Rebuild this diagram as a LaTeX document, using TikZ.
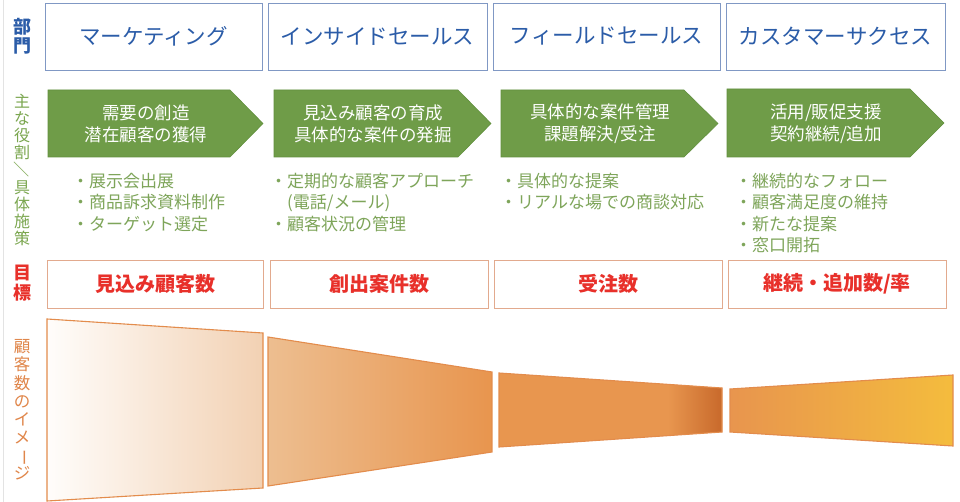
\documentclass[tikz,border=0pt]{standalone}
\usepackage{fontspec}
\setmainfont{Noto Sans CJK JP}
\usepackage{graphicx}
\definecolor{deptblue}{HTML}{2B5CA8}
\definecolor{deptline}{HTML}{8098C4}
\definecolor{rolegreen}{HTML}{6F9C48}
\definecolor{roleedge}{HTML}{62903E}
\definecolor{bulletgreen}{HTML}{7EA55A}
\definecolor{labelgreen}{HTML}{7AA64E}
\definecolor{goalred}{HTML}{E8302A}
\definecolor{goalline}{HTML}{E2AA8E}
\definecolor{labelorange}{HTML}{E0864A}
\definecolor{funnelline}{HTML}{E38C4C}
\definecolor{peachA}{HTML}{FFFDFB}
\definecolor{peachB}{HTML}{F2D1B3}
\definecolor{peachC}{HTML}{EDBE90}
\definecolor{orangeA}{HTML}{E8954E}
\definecolor{orangeB}{HTML}{E8964F}
\definecolor{orangeDark}{HTML}{C8692B}
\definecolor{yellowA}{HTML}{F4BC3D}
\tikzset{
  deptbox/.style={draw=deptline, line width=0.9pt, fill=white, inner sep=0pt,
    minimum height=67pt, text=deptblue, font=\fontsize{21.5}{24}\selectfont},
  rolearrow/.style={fill=rolegreen, draw=roleedge, line width=0.6pt},
  roletext/.style={text=white, align=center, inner sep=0pt,
    font=\fontsize{17.5}{22}\selectfont},
  bulletline/.style={anchor=base west, inner sep=0pt, text=bulletgreen,
    font=\fontsize{17}{21}\selectfont},
  goalbox/.style={draw=goalline, line width=0.9pt, fill=white, inner sep=0pt,
    minimum height=48pt, text=goalred, font=\fontsize{20}{24}\selectfont\bfseries},
  sidelabel/.style={align=center, inner sep=0pt},
  funnel/.style={draw=funnelline, line width=1.1pt, line join=miter}
}
\begin{document}
\begin{tikzpicture}[x=1pt,y=-1pt]
\useasboundingbox (0,0) rectangle (960,502);
\fill[white] (0,0) rectangle (960,502);
\draw[gray!22, line width=0.6pt] (3,0) -- (3,502);

% side labels
\node[sidelabel, text=deptblue, font=\fontsize{18}{18.5}\selectfont\bfseries] (lblDept) at (22,36) {部\\門};
\node[sidelabel, text=labelgreen, font=\fontsize{16}{17.1}\selectfont] (lblRole) at (22,170)
  {主\\な\\役\\割\\\rotatebox[origin=c]{-90}{／}\\具\\体\\施\\策};
\node[sidelabel, text=goalred, font=\fontsize{18}{19.5}\selectfont\bfseries] (lblGoal) at (22,283) {目\\標};
\node[sidelabel, text=labelorange, font=\fontsize{16.5}{18.1}\selectfont] (lblImage) at (22,410)
  {顧\\客\\数\\の\\イ\\メ\\\rotatebox[origin=c]{-90}{ー}\\ジ};

% department boxes
\node[deptbox, minimum width=217pt] (dept1) at (153.5,36.5) {マーケティング};
\node[deptbox, minimum width=219pt] (dept2) at (377.5,36.5) {インサイドセールス};
\node[deptbox, minimum width=227pt] (dept3) at (606.5,36.5) {フィールドセールス};
\node[deptbox, minimum width=219pt] (dept4) at (835.5,36.5) {カスタマーサクセス};

% role arrows
\draw[rolearrow] (48,90) -- (230,90) -- (263,123.5) -- (230,157) -- (48,157) -- cycle;
\draw[rolearrow] (274,90) -- (458,90) -- (491,123.5) -- (458,157) -- (274,157) -- cycle;
\draw[rolearrow] (501,90) -- (684,90) -- (718,123.5) -- (684,157) -- (501,157) -- cycle;
\draw[rolearrow] (727,89) -- (910,89) -- (944,123) -- (910,157) -- (727,157) -- cycle;
\node[roletext] (role1) at (146,124) {需要の創造\\潜在顧客の獲得};
\node[roletext] (role2) at (373,124) {見込み顧客の育成\\具体的な案件の発掘};
\node[roletext] (role3) at (600,124) {具体的な案件管理\\課題解決/受注};
\node[roletext] (role4) at (826,124) {活用/販促支援\\契約継続/追加};

% measures
\node[bulletline] (m11) at (72,187.5) {・展示会出展};
\node[bulletline] (m12) at (72,209) {・商品訴求資料制作};
\node[bulletline] (m13) at (72,230.5) {・ターゲット選定};
\node[bulletline] (m21) at (270,187.5) {・定期的な顧客アプローチ};
\node[bulletline] (m22) at (287,209) {(電話/メール)};
\node[bulletline] (m23) at (270,230.5) {・顧客状況の管理};
\node[bulletline] (m31) at (500,187.5) {・具体的な提案};
\node[bulletline] (m32) at (500,209) {・リアルな場での商談対応};
\node[bulletline] (m41) at (735,187.5) {・継続的なフォロー};
\node[bulletline] (m42) at (735,209) {・顧客満足度の維持};
\node[bulletline] (m43) at (735,230.5) {・新たな提案};
\node[bulletline] (m44) at (735,252) {・窓口開拓};

% goals
\node[goalbox, minimum width=216pt] (goal1) at (155.5,284) {見込み顧客数};
\node[goalbox, minimum width=218pt] (goal2) at (379,284) {創出案件数};
\node[goalbox, minimum width=228pt] (goal3) at (608,284) {受注数};
\node[goalbox, minimum width=218pt] (goal4) at (837,284) {継続・追加数/率};

% funnel image
\path[funnel, left color=peachA, right color=peachB]
  (47,319) -- (263,333) -- (263,488) -- (47,501) -- cycle;
\path[funnel, left color=peachC, right color=orangeA]
  (268,337) -- (492,372) -- (492,452) -- (268,486) -- cycle;
\fill[orangeB] (499,373) -- (722,388) -- (722,432) -- (499,447) -- cycle;
\shade[left color=orangeB, right color=orangeDark]
  (668,384.4) -- (722,388) -- (722,432) -- (668,435.6) -- cycle;
\draw[funnel] (499,373) -- (722,388) -- (722,432) -- (499,447) -- cycle;
\path[funnel, left color=orangeA, right color=yellowA]
  (730,389) -- (953,375) -- (953,446) -- (730,432) -- cycle;
\end{tikzpicture}
\end{document}
